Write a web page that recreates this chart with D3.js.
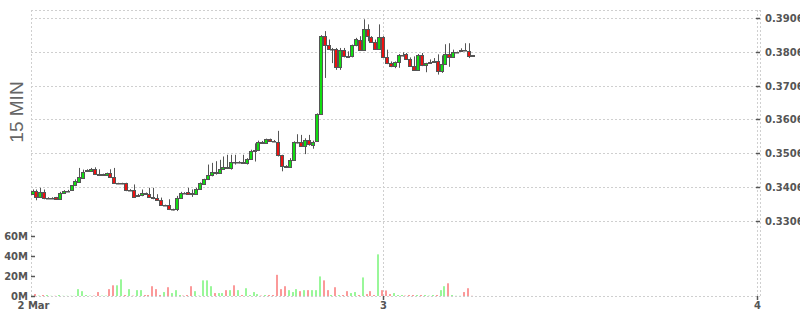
<!DOCTYPE html>
<html>
<head>
<meta charset="utf-8">
<script src="https://cdn.jsdelivr.net/npm/d3@7"></script>
<style>
  html, body { margin: 0; padding: 0; background: #fff; }
  svg { display: block; }
</style>
</head>
<body>
<div id="chart"></div>
<script>
// 15 min candles, 2 Mar 01:30 onwards
var openPrices = [
  0.3385, 0.3393, 0.3376, 0.3390, 0.3372, 0.3373, 0.3375, 0.3370, 0.3388, 0.3394,
  0.3397, 0.3410, 0.3421, 0.3432, 0.3452, 0.3454, 0.3459, 0.3444, 0.3442, 0.3442,
  0.3446, 0.3435, 0.3416, 0.3416, 0.3416, 0.3396, 0.3396, 0.3378, 0.3383, 0.3387,
  0.3385, 0.3377, 0.3373, 0.3366, 0.3351, 0.3352, 0.3339, 0.3339, 0.3374, 0.3388,
  0.3390, 0.3388, 0.3385, 0.3400, 0.3415, 0.3428, 0.3440, 0.3450, 0.3447, 0.3460,
  0.3464, 0.3461, 0.3480, 0.3479, 0.3480, 0.3477, 0.3488, 0.3511, 0.3514, 0.3540,
  0.3537, 0.3547, 0.3543, 0.3540, 0.3499, 0.3467, 0.3464, 0.3486, 0.3538, 0.3538,
  0.3528, 0.3545, 0.3531, 0.3541, 0.3621, 0.3853, 0.3826, 0.3815, 0.3816, 0.3761,
  0.3812, 0.3793, 0.3793, 0.3826, 0.3843, 0.3813, 0.3873, 0.3851, 0.3836, 0.3815,
  0.3850, 0.3791, 0.3773, 0.3764, 0.3777, 0.3797, 0.3800, 0.3786, 0.3764, 0.3752,
  0.3796, 0.3766, 0.3772, 0.3776, 0.3779, 0.3749, 0.3771, 0.3801, 0.3791, 0.3805,
  0.3808, 0.3813, 0.3808, 0.3796
];
var highPrices = [
  0.3398, 0.3398, 0.3403, 0.3398, 0.3375, 0.3375, 0.3376, 0.3391, 0.3396, 0.3397,
  0.3411, 0.3428, 0.3462, 0.3457, 0.3458, 0.3462, 0.3464, 0.3458, 0.3445, 0.3448,
  0.3458, 0.3462, 0.3418, 0.3418, 0.3418, 0.3399, 0.3413, 0.3385, 0.3398, 0.3389,
  0.3403, 0.3403, 0.3384, 0.3374, 0.3353, 0.3369, 0.3341, 0.3379, 0.3391, 0.3390,
  0.3403, 0.3398, 0.3403, 0.3419, 0.3430, 0.3472, 0.3477, 0.3482, 0.3486, 0.3496,
  0.3501, 0.3501, 0.3501, 0.3482, 0.3501, 0.3491, 0.3516, 0.3535, 0.3543, 0.3542,
  0.3549, 0.3549, 0.3545, 0.3572, 0.3501, 0.3470, 0.3491, 0.3541, 0.3562, 0.3560,
  0.3550, 0.3560, 0.3543, 0.3624, 0.3856, 0.3868, 0.3843, 0.3818, 0.3818, 0.3818,
  0.3818, 0.3808, 0.3828, 0.3848, 0.3853, 0.3903, 0.3888, 0.3853, 0.3843, 0.3888,
  0.3853, 0.3813, 0.3778, 0.3778, 0.3800, 0.3805, 0.3803, 0.3790, 0.3793, 0.3800,
  0.3803, 0.3774, 0.3784, 0.3788, 0.3799, 0.3796, 0.3829, 0.3832, 0.3813, 0.3807,
  0.3817, 0.3832, 0.3832, 0.3797
];
var lowPrices = [
  0.3383, 0.3366, 0.3374, 0.3369, 0.3371, 0.3371, 0.3368, 0.3368, 0.3387, 0.3393,
  0.3396, 0.3408, 0.3419, 0.3430, 0.3451, 0.3452, 0.3444, 0.3438, 0.3440, 0.3440,
  0.3432, 0.3415, 0.3414, 0.3414, 0.3393, 0.3394, 0.3376, 0.3376, 0.3378, 0.3385,
  0.3375, 0.3369, 0.3364, 0.3349, 0.3349, 0.3337, 0.3336, 0.3334, 0.3372, 0.3386,
  0.3382, 0.3376, 0.3383, 0.3398, 0.3413, 0.3426, 0.3437, 0.3442, 0.3444, 0.3457,
  0.3460, 0.3457, 0.3472, 0.3476, 0.3474, 0.3472, 0.3486, 0.3481, 0.3512, 0.3535,
  0.3535, 0.3541, 0.3540, 0.3496, 0.3452, 0.3463, 0.3462, 0.3484, 0.3535, 0.3526,
  0.3503, 0.3528, 0.3519, 0.3539, 0.3619, 0.3729, 0.3813, 0.3773, 0.3753, 0.3753,
  0.3790, 0.3790, 0.3790, 0.3823, 0.3811, 0.3810, 0.3838, 0.3833, 0.3813, 0.3813,
  0.3788, 0.3770, 0.3761, 0.3758, 0.3759, 0.3793, 0.3783, 0.3762, 0.3751, 0.3751,
  0.3764, 0.3746, 0.3771, 0.3774, 0.3739, 0.3744, 0.3769, 0.3762, 0.3789, 0.3803,
  0.3806, 0.3810, 0.3788, 0.3795
];
var closePrices = [
  0.3393, 0.3376, 0.3390, 0.3372, 0.3373, 0.3373, 0.3370, 0.3388, 0.3394, 0.3395,
  0.3410, 0.3423, 0.3434, 0.3450, 0.3455, 0.3459, 0.3445, 0.3442, 0.3443, 0.3446,
  0.3435, 0.3416, 0.3417, 0.3417, 0.3396, 0.3397, 0.3377, 0.3383, 0.3387, 0.3386,
  0.3377, 0.3373, 0.3366, 0.3351, 0.3352, 0.3339, 0.3340, 0.3374, 0.3388, 0.3387,
  0.3385, 0.3386, 0.3400, 0.3417, 0.3428, 0.3442, 0.3449, 0.3448, 0.3460, 0.3464,
  0.3461, 0.3480, 0.3479, 0.3480, 0.3478, 0.3488, 0.3511, 0.3516, 0.3540, 0.3537,
  0.3547, 0.3543, 0.3542, 0.3499, 0.3467, 0.3465, 0.3486, 0.3538, 0.3539, 0.3528,
  0.3545, 0.3532, 0.3540, 0.3621, 0.3853, 0.3828, 0.3816, 0.3816, 0.3761, 0.3812,
  0.3793, 0.3792, 0.3826, 0.3845, 0.3813, 0.3873, 0.3853, 0.3836, 0.3815, 0.3850,
  0.3791, 0.3773, 0.3763, 0.3777, 0.3796, 0.3798, 0.3786, 0.3764, 0.3752, 0.3796,
  0.3766, 0.3772, 0.3776, 0.3779, 0.3749, 0.3771, 0.3801, 0.3791, 0.3805, 0.3806,
  0.3813, 0.3812, 0.3793, 0.3795
];
// volume in millions
var volumes = [
  0.2, 2.0, 0.4, 1.0, 1.0, 0.2, 0.2, 1.0, 0.2, 0.2,
  0.2, 0.2, 6.8, 4.8, 1.0, 0.4, 0.4, 3.9, 0.4, 0.4,
  6.8, 10.6, 10.6, 16.5, 1.0, 6.8, 0.4, 5.8, 5.8, 1.0,
  1.0, 9.7, 6.8, 1.0, 3.9, 8.7, 2.9, 5.8, 1.0, 0.4,
  1.0, 9.7, 4.8, 0.4, 15.5, 15.5, 9.7, 2.9, 2.9, 2.9,
  5.8, 5.8, 10.6, 5.8, 1.0, 7.7, 1.0, 3.9, 1.9, 0.4,
  1.0, 1.0, 1.0, 21.0, 6.8, 9.7, 5.8, 3.9, 6.8, 4.8,
  5.8, 5.8, 5.8, 5.8, 19.4, 15.5, 5.8, 1.0, 8.7, 1.0,
  1.0, 4.8, 2.9, 3.9, 1.0, 18.4, 1.9, 4.8, 1.0, 41.3,
  5.8, 5.5, 1.9, 2.9, 1.0, 1.0, 0.4, 1.0, 1.0, 1.0,
  1.0, 1.0, 0.4, 1.0, 1.0, 5.8, 9.7, 12.6, 1.0, 0.2,
  0.2, 3.9, 7.7, 0.2
];
var priceTicks = [0.3306, 0.3406, 0.3506, 0.3606, 0.3706, 0.3806, 0.3906];
var volumeTicks = [0, 20, 40, 60];
var volumeTickLabels = ['0M', '20M', '40M', '60M'];
var firstCandle = new Date(Date.UTC(2020, 2, 2, 1, 30));
var dayTicks = [firstCandle, new Date(Date.UTC(2020, 2, 3)), new Date(Date.UTC(2020, 2, 4))];
var dayTickLabels = ['2 Mar', '3', '4'];

(function () {
    var width = 800, height = 315;
    var left = 31, right = 760, top = 10, bottom = 296;
    var axisColor = '#555';
    var gridColor = '#cfcfcf';
    var labelFont = '"DejaVu Sans", Verdana, sans-serif';

    var candleTimes = openPrices.map(function (d, i) {
        return d3.utcMinute.offset(firstCandle, 15 * i);
    });

    var x = d3.scaleUtc()
        .domain([new Date(Date.UTC(2020, 2, 2, 1, 24)), new Date(Date.UTC(2020, 2, 4))])
        .range([left, 757]);
    var y = d3.scaleLinear().domain([0.3306, 0.3906]).range([220.5, 18.3]);
    var yVol = d3.scaleLinear().domain([0, 60]).range([bottom, 235.5]);

    var svg = d3.select('#chart')
        .append('svg')
        .attr('width', width)
        .attr('height', height)
        .attr('viewBox', '0 0 ' + width + ' ' + height);

    var grid = svg.append('g')
        .attr('stroke', gridColor)
        .attr('stroke-width', 1)
        .attr('stroke-dasharray', '2,2')
        .attr('fill', 'none');

    // horizontal grid: frame top/bottom + price ticks
    [top, bottom].concat(priceTicks.map(function (p) { return Math.round(y(p)); }))
        .forEach(function (gy) {
            grid.append('line')
                .attr('x1', left).attr('x2', right)
                .attr('y1', gy + 0.5).attr('y2', gy + 0.5);
        });

    // vertical grid: left edge, day lines, right edge
    [left, Math.round(x(dayTicks[1])), Math.round(x(dayTicks[2])), right].forEach(function (gx) {
        grid.append('line')
            .attr('x1', gx + 0.5).attr('x2', gx + 0.5)
            .attr('y1', top).attr('y2', bottom);
    });

    // volume bars
    svg.append('g')
        .selectAll('rect')
        .data(volumes)
        .enter()
        .append('rect')
        .attr('x', function (d, i) { return Math.round(x(candleTimes[i])) - 2; })
        .attr('y', function (d) { return yVol(d); })
        .attr('width', 2)
        .attr('height', function (d) { return bottom - yVol(d); })
        .attr('fill', function (d, i) {
            return closePrices[i] >= openPrices[i] ? '#99f799' : '#fb9999';
        });

    // candles
    var candles = svg.append('g');
    openPrices.forEach(function (o, i) {
        var c = closePrices[i];
        var cx = Math.round(x(candleTimes[i]));
        var yTop = Math.round(y(Math.max(o, c)));
        var yBot = Math.round(y(Math.min(o, c)));

        candles.append('line')
            .attr('x1', cx + 0.5).attr('x2', cx + 0.5)
            .attr('y1', y(highPrices[i])).attr('y2', y(lowPrices[i]))
            .attr('stroke', axisColor)
            .attr('stroke-width', 1);

        candles.append('rect')
            .attr('x', cx - 1.5)
            .attr('y', yTop + 0.5)
            .attr('width', 3)
            .attr('height', Math.max(yBot - yTop, 0.5))
            .attr('fill', c >= o ? '#11dd11' : '#ee1111')
            .attr('stroke', axisColor)
            .attr('stroke-width', 1);
    });

    // right price axis
    priceTicks.forEach(function (p) {
        var ty = Math.round(y(p)) + 0.5;
        svg.append('line')
            .attr('x1', right - 4).attr('x2', right)
            .attr('y1', ty).attr('y2', ty)
            .attr('stroke', axisColor)
            .attr('stroke-width', 1.5);
        svg.append('text')
            .attr('x', 765)
            .attr('y', ty)
            .attr('dy', '0.35em')
            .attr('font-family', labelFont)
            .attr('font-size', 10)
            .attr('font-weight', 'bold')
            .attr('fill', axisColor)
            .text(d3.format('.4f')(p));
    });

    // left volume axis
    volumeTicks.forEach(function (v, i) {
        var ty = Math.round(yVol(v)) + 0.5;
        svg.append('line')
            .attr('x1', left).attr('x2', left + 4)
            .attr('y1', ty).attr('y2', ty)
            .attr('stroke', axisColor)
            .attr('stroke-width', 1.5);
        svg.append('text')
            .attr('x', 28)
            .attr('y', ty)
            .attr('dy', '0.35em')
            .attr('text-anchor', 'end')
            .attr('font-family', labelFont)
            .attr('font-size', 10)
            .attr('font-weight', 'bold')
            .attr('fill', axisColor)
            .text(volumeTickLabels[i]);
    });

    // time axis
    dayTicks.forEach(function (t, i) {
        var tx = Math.round(x(t)) + 0.5;
        if (i > 0) {
            svg.append('line')
                .attr('x1', tx).attr('x2', tx)
                .attr('y1', bottom).attr('y2', bottom + 4)
                .attr('stroke', axisColor)
                .attr('stroke-width', 1.5);
        }
        svg.append('text')
            .attr('x', tx)
            .attr('y', 309)
            .attr('text-anchor', 'middle')
            .attr('font-family', labelFont)
            .attr('font-size', 10)
            .attr('font-weight', 'bold')
            .attr('fill', axisColor)
            .text(dayTickLabels[i]);
    });

    svg.append('text')
        .attr('transform', 'translate(22.5,112) rotate(-90)')
        .attr('text-anchor', 'middle')
        .attr('font-family', '"Liberation Sans", Arial, sans-serif')
        .attr('font-size', 19)
        .attr('fill', '#666')
        .text('15 MIN');
})();
</script>
</body>
</html>
